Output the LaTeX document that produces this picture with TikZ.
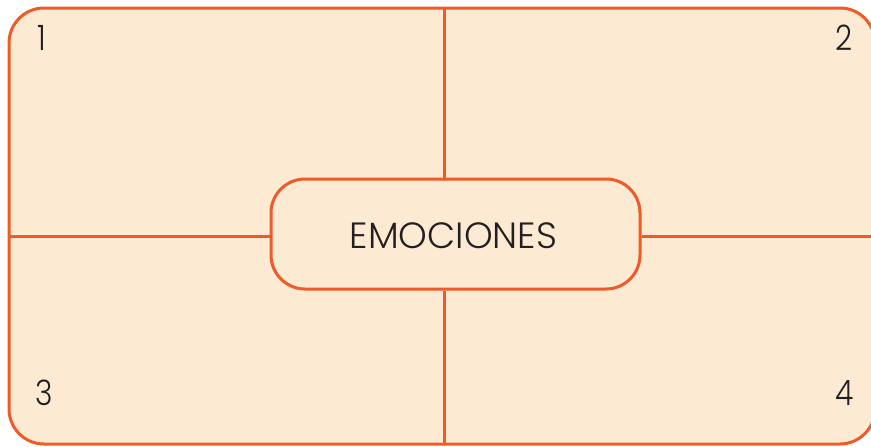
\documentclass[tikz,border=0pt]{standalone}
\usepackage{fontspec}
\setmainfont{Poppins}[UprightFont={* Light}]
\definecolor{edge}{HTML}{F05A28}
\definecolor{paper}{HTML}{FDEAD3}
\definecolor{ink}{HTML}{231F20}
\begin{document}
\begin{tikzpicture}[x=1pt,y=-1pt,
  frame/.style={draw=edge,line width=3pt},
  numlabel/.style={anchor=base,inner sep=0pt,text=ink,font=\fontsize{35}{35}\selectfont\addfontfeature{FakeStretch=0.85}},
  titlelabel/.style={anchor=base,inner sep=0pt,text=ink,font=\fontsize{36.5}{36.5}\selectfont},
  centerbox/.style={frame,fill=paper,rounded corners=34pt,minimum width=369pt,minimum height=110pt,inner sep=0pt}]
\useasboundingbox (0,0) rectangle (871,447);
\filldraw[frame,fill=paper,rounded corners=35pt] (9,8) rectangle (875,444);
\coordinate (top) at (444,8);
\coordinate (bot) at (444,444);
\coordinate (lft) at (9,236);
\coordinate (rgt) at (875,236);
\node[centerbox] (c) at (455.5,234) {};
\draw[frame] (top) -- (top |- c.north);
\draw[frame] (bot) -- (bot |- c.south);
\draw[frame] (lft) -- (lft -| c.west);
\draw[frame] (rgt) -- (rgt -| c.east);
\node[titlelabel] (t) at (453.5,248) {EMOCIONES};
\node[numlabel] (n1) at (41.5,50) {1};
\node[numlabel] (n2) at (844,50) {2};
\node[numlabel] (n3) at (44,405) {3};
\node[numlabel] (n4) at (844.5,405) {4};
\end{tikzpicture}
\end{document}
